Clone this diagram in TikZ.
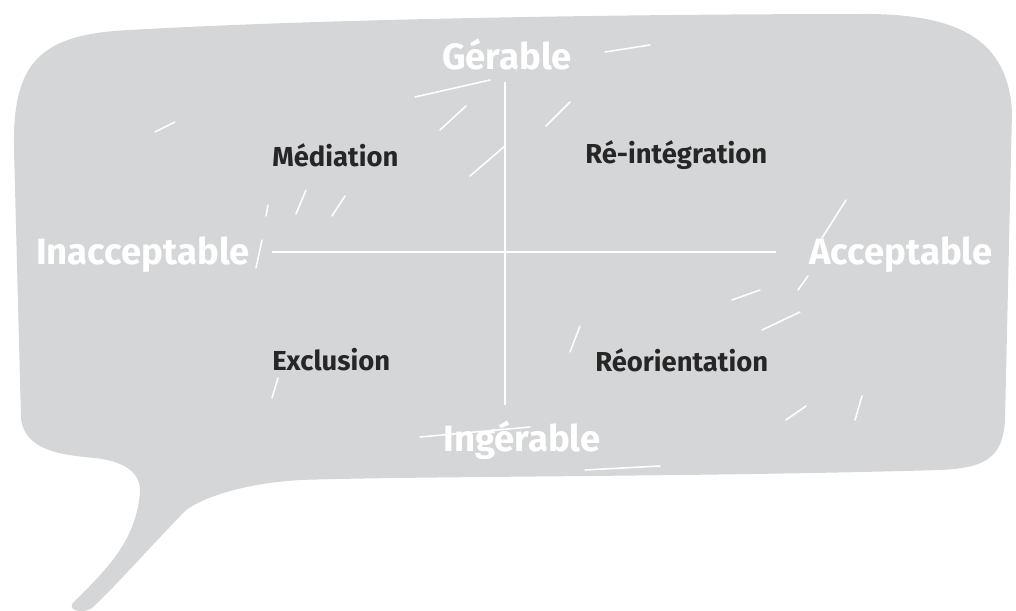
\documentclass[tikz,border=0pt]{standalone}
\usepackage{fontspec}
\setsansfont{Fira Sans}
\usepackage{xcolor}
\usepackage{tikz}
\definecolor{bubbleGrey}{RGB}{213,214,216}
\definecolor{textDark}{RGB}{38,38,38}

\begin{document}
\begin{tikzpicture}[x=0.025cm, y=-0.025cm,
    every node/.style={font=\sffamily\bfseries, inner sep=0pt},
    poleLabel/.style={text=white, font=\sffamily\bfseries\fontsize{26}{30}\selectfont},
    zoneLabel/.style={text=textDark, anchor=west, font=\sffamily\bfseries\fontsize{19.5}{23}\selectfont},
    axisLine/.style={white, line width=1.4pt},
    scratch/.style={white, line width=1.1pt, line cap=round}]
\useasboundingbox (0,0) rectangle (1016,610);

% Speech bubble
\fill[bubbleGrey] (72,604)
    .. controls (100,575) and (136,545) .. (140,492)
    .. controls (141,470) and (120,461) .. (95,458)
    .. controls (60,455) and (24,450) .. (21,418)
    -- (14,150)
    .. controls (12,62) and (40,34) .. (130,30)
    .. controls (300,20) and (600,14) .. (870,14)
    .. controls (962,15) and (1008,42) .. (1012,112)
    -- (1005,420)
    .. controls (1003,460) and (982,468) .. (940,470)
    .. controls (700,477) and (420,476) .. (300,480)
    .. controls (250,483) and (207,495) .. (186,510)
    .. controls (152,545) and (112,590) .. (92,608)
    .. controls (85,613) and (69,612) .. (72,604) -- cycle;

% Pole labels
\node[poleLabel] (gerable)   at (507,55)  {Gérable};
\node[poleLabel] (ingerable) at (522,440) {Ingérable};
\node[poleLabel] (inaccept)  at (143,255) {Inacceptable};
\node[poleLabel] (accept)    at (901,255) {Acceptable};

% Axes
\coordinate (axisTop)    at (505,82);
\coordinate (axisBottom) at (505,405);
\coordinate (axisLeft)   at (272,252);
\coordinate (axisRight)  at (776,252);
\draw[axisLine] (axisTop) -- (axisBottom);
\draw[axisLine] (axisLeft) -- (axisRight);

% Quadrant labels
\node[zoneLabel] (mediation)     at (272,155) {Médiation};
\node[zoneLabel] (reintegration) at (585,155) {Ré-intégration};
\node[zoneLabel] (exclusion)     at (272,360) {Exclusion};
\node[zoneLabel] (reorientation) at (595,360) {Réorientation};

% Chalk scratches
\foreach \a/\b in {{(605,52)/(650,45)}, {(415,97)/(490,80)}, {(440,130)/(466,106)},
    {(470,176)/(505,146)}, {(546,126)/(570,102)}, {(296,214)/(306,190)},
    {(332,216)/(345,196)}, {(256,268)/(262,240)}, {(822,238)/(846,200)},
    {(798,290)/(808,276)}, {(732,300)/(760,290)}, {(762,330)/(800,312)},
    {(570,352)/(580,326)}, {(278,378)/(272,398)}, {(786,420)/(806,406)},
    {(855,420)/(862,396)}, {(420,437)/(530,427)}, {(585,470)/(660,466)},
    {(155,132)/(175,122)}, {(266,216)/(268,205)}}
    \draw[scratch] \a -- \b;

\end{tikzpicture}
\end{document}
